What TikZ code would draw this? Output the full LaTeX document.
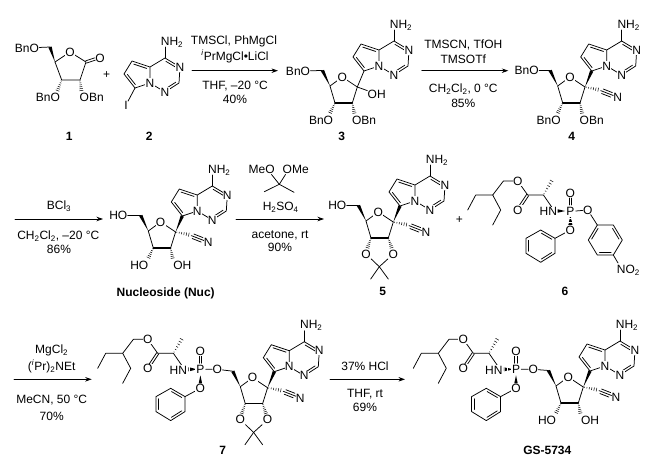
\documentclass[tikz,border=0pt]{standalone}
\usepackage{fontspec}
\setmainfont{Liberation Sans}
\usetikzlibrary{calc,arrows.meta}
\newcommand\bhash[2]{\foreach \hh in {0.08,0.24,...,0.95}{\pgfmathsetmacro\hw{0.3+1.7*\hh}\draw[line width=.5pt] ($($(#1)!\hh!(#2)$)!\hw pt!90:(#2)$) -- ($($(#1)!\hh!(#2)$)!\hw pt!-90:(#2)$);}}
\newcommand\bwedge[2]{\fill[black] (#1) -- ($(#2)!1.7pt!90:(#1)$) -- ($(#2)!1.7pt!-90:(#1)$) -- cycle;}
% inner line of a double bond, #3 = 90 (left) or -90 (right of a->b)
\newcommand\bdbl[3]{\draw ($($(#1)!.14!(#2)$)!2.4pt!#3:(#2)$) -- ($($(#2)!.14!(#1)$)!2.4pt!-#3:(#1)$);}
\newcommand\btwo[2]{\draw ($(#1)!1.2pt!90:(#2)$) -- ($(#2)!1.2pt!-90:(#1)$); \draw ($(#1)!1.2pt!-90:(#2)$) -- ($(#2)!1.2pt!90:(#1)$);}
\newcommand\nhtwo{NH\textsubscript{2}}
\tikzset{
  x=1pt,y=-1pt,
  bond/.style={line width=.75pt,line cap=round,line join=round},
  every path/.style={bond},
  lbl/.style={inner sep=0pt,text height=8.4pt,text depth=0pt,font=\fontsize{12}{12}\selectfont},
  atom/.style={lbl,fill=white,inner sep=.4pt},
  num/.style={lbl,font=\fontsize{12}{12}\selectfont\bfseries},
  arr/.style={line width=.8pt,-{Stealth[length=6.5pt,width=4.5pt]}},
  % fused pyrrolo-triazine, origin at the bridge N
  pics/het/.style={code={
    \coordinate (Nb) at (0,0); \coordinate (C4a) at (0,-16); \coordinate (C4) at (15,-25);
    \coordinate (N3) at (30,-16); \coordinate (C2) at (29,0); \coordinate (N1) at (15,9);
    \coordinate (C5) at (-18,-22); \coordinate (C6) at (-26,-9); \coordinate (C7) at (-15,5);
    \coordinate (Nx) at (15,-36);
    \draw (Nb) -- (C4a) -- (C4) -- (N3) -- (C2) -- (N1) -- (Nb) -- (C7) -- (C6) -- (C5) -- (C4a);
    \draw (C4) -- (Nx);
    \bdbl{C4a}{C5}{90}\bdbl{C6}{C7}{90}\bdbl{C4}{N3}{-90}\bdbl{C2}{N1}{-90}
    \node[atom] (nNb) at (Nb) {N}; \node[atom] (nN3) at (N3) {N}; \node[atom] (nN1) at (N1) {N};
    \node[lbl] (nNH) at (22,-42) {\nhtwo};
  }},
  % furanose ring in the same frame
  pics/fur/.style={code={
    \coordinate (R1) at (-21.7,21); \coordinate (RO) at (-36.7,11); \coordinate (R2) at (-26.7,37);
    \coordinate (R3) at (-44,37); \coordinate (R4) at (-49,20); \coordinate (CH) at (-56.5,4.5);
    \draw (R4) -- (RO) -- (R1) -- (R2);
    \draw (R4) -- (R3);
    \draw[line width=1.1pt] (R3) -- (R2);
    \bwedge{R4}{CH}
    \node[atom] (nRO) at (RO) {O};
  }},
  pics/subs/.style 2 args={code={
    \coordinate (a3) at (-44,37); \coordinate (a2) at (-26.7,37);
    \coordinate (h3) at (-49.5,48); \coordinate (h2) at (-24.4,48.5);
    \bhash{a3}{h3}\bhash{a2}{h2}
    \node[lbl] (s3) at (-58,54) {#1};
    \node[lbl] (s2) at (-15,54) {#2};
  }},
  pics/cn/.style={code={
    \coordinate (p1) at (-21.7,21); \coordinate (p2) at (-6.7,24); \coordinate (p3) at (-6,24.6); \coordinate (p4) at (6.5,29.5);
    \bhash{p1}{p2}
    \draw (p3) -- (p4); \bdbl{p3}{p4}{90}\bdbl{p3}{p4}{-90}
    \node[lbl] (nN) at (11,31.3) {N};
  }},
  pics/acet/.style={code={
    \coordinate (a3) at (-44,37); \coordinate (a2) at (-26.7,37);
    \coordinate (q) at (-35.7,65.7); \coordinate (m1) at (-44.3,78); \coordinate (m2) at (-26.7,78);
    \coordinate (e3) at (-48,48); \coordinate (e2) at (-23,48);
    \bhash{a3}{e3}\bhash{a2}{e2}
    \node[atom] (o3) at (-49,53) {O}; \node[atom] (o2) at (-21.7,53) {O};
    \draw (o3) -- (q) -- (o2); \draw (q) -- (m1); \draw (q) -- (m2);
  }},
  % ethylbutyl alanine ester with P and OPh, origin at the branching CH
  pics/chain/.style={code={
    \coordinate (t1) at (-25,15); \coordinate (t2) at (-17,0); \coordinate (CH) at (0,0);
    \coordinate (t4) at (10.7,-14); \coordinate (Oe) at (25,-14); \coordinate (CO) at (35,0);
    \coordinate (Od) at (25,15); \coordinate (Ca) at (50.7,0); \coordinate (Me) at (60,-16);
    \coordinate (u1) at (8,15); \coordinate (u2) at (0,30); \coordinate (NN) at (59,12);
    \coordinate (Nr) at (65,16); \coordinate (Pl) at (72.5,16); \coordinate (Pd) at (77.7,22);
    \coordinate (Pr) at (83,16); \coordinate (Pu) at (77.7,10); \coordinate (Otb) at (77.7,3);
    \coordinate (Oub) at (77.7,30); \coordinate (OO) at (77.7,35);
    \coordinate (ph1) at (62.3,43.3); \coordinate (ph2) at (48,35); \coordinate (ph3) at (33.3,43.3);
    \coordinate (ph4) at (33.3,58.3); \coordinate (ph5) at (48,67.3); \coordinate (ph6) at (62.3,58.3);
    \draw (t1) -- (t2) -- (CH) -- (t4) -- (Oe) -- (CO) -- (Ca) -- (NN);
    \draw (CH) -- (u1) -- (u2);
    \draw (OO) -- (ph1);
    \draw (ph1) -- (ph2) -- (ph3) -- (ph4) -- (ph5) -- (ph6) -- cycle;
    \btwo{CO}{Od}\btwo{Pu}{Otb}
    \bhash{Ca}{Me}
    \bdbl{ph1}{ph2}{90}\bdbl{ph3}{ph4}{90}\bdbl{ph5}{ph6}{90}
    \node[atom] (nOe) at (Oe) {O}; \node[atom] (nOd) at (Od) {O};
    \node[atom] (nHN) at (55.6,16.7) {HN};
    \node[atom] (nP) at (77.7,16) {P};
    \node[lbl] (nOt) at (77.7,-1.7) {O};
    \node[atom] (nOO) at (OO) {O};
  }},
}
\begin{document}
\begin{tikzpicture}
\useasboundingbox (0,0) rectangle (660,466);
\fill[white] (0,0) rectangle (660,466);

% --- compound 1
\coordinate (l1) at (86,62); \coordinate (l2) at (80,80); \coordinate (l3) at (61.7,80);
\coordinate (l4) at (55,62); \coordinate (l5) at (50,47); \coordinate (lo) at (70,52);
\coordinate (lc) at (95,59); \coordinate (lh3) at (57,92); \coordinate (lh2) at (81.5,92);
\draw (l1) -- (l2) -- (l3) -- (l4); \draw (l4) -- (lo) -- (l1);
\btwo{l1}{lc}
\bwedge{l4}{l5}
\bhash{l3}{lh3}\bhash{l2}{lh2}
\node[lbl] (bn1a) at (27,48) {BnO};
\draw (bn1a) -- (l5);
\node[atom] (o1r) at (lo) {O};
\node[lbl] (o1d) at (100,58) {O};
\node[lbl] (bn1b) at (48,97) {BnO};
\node[lbl] (bn1c) at (91.7,97) {OBn};
\node[lbl] (plus1) at (106.7,74) {+};
\node[num] (n1) at (69.3,136.7) {1};

% --- compound 2
\pic (c2) at (150,83) {het};
\node[lbl] (iod) at (126,105) {I};
\draw (c2C7) -- (iod);
\node[num] (n2) at (149.3,136.7) {2};

% --- arrow 1
\coordinate (a1s) at (192,70.7); \coordinate (a1e) at (278,70.7);
\draw[arr] (a1s) -- (a1e);
\node[lbl] (r1a) at (234,40.7) {TMSCl, PhMgCl};
\node[lbl] (r1b) at (235,56) {\textsuperscript{\textit{i}}PrMgCl•LiCl};
\node[lbl] (r1c) at (235,85) {THF, –20 °C};
\node[lbl] (r1d) at (235,99) {40\%};

% --- compound 3
\pic (c3) at (379,66) {het};
\pic (c3f) at (379,66) {fur};
\pic (c3s) at (379,66) {subs={BnO}{OBn}};
\draw (c3fR1) -- (c3C7);
\node[lbl] (oh3) at (376.7,94) {OH};
\draw (c3fR1) -- (oh3);
\node[lbl] (bn3) at (298,71) {BnO};
\draw (bn3) -- (c3fCH);
\node[num] (n3) at (341.7,136.7) {3};

% --- arrow 2
\coordinate (a2s) at (421.7,70.7); \coordinate (a2e) at (508.3,70.7);
\draw[arr] (a2s) -- (a2e);
\node[lbl] (r2a) at (463.3,44.3) {TMSCN, TfOH};
\node[lbl] (r2b) at (463.3,59.3) {TMSOTf};
\node[lbl] (r2c) at (463.3,88.3) {CH\textsubscript{2}Cl\textsubscript{2}, 0 °C};
\node[lbl] (r2d) at (463.3,103.3) {85\%};

% --- compound 4
\pic (c4) at (606.7,66) {het};
\pic (c4f) at (606.7,66) {fur};
\pic (c4s) at (606.7,66) {subs={BnO}{OBn}};
\pic (c4c) at (606.7,66) {cn};
\bwedge{c4fR1}{c4C7}
\node[lbl] (bn4) at (526.7,70.7) {BnO};
\draw (bn4) -- (c4fCH);
\node[num] (n4) at (571.7,136.7) {4};

% --- arrow 3
\coordinate (a3s) at (15,219); \coordinate (a3e) at (103,219);
\draw[arr] (a3s) -- (a3e);
\node[lbl] (r3a) at (59,205.7) {BCl\textsubscript{3}};
\node[lbl] (r3b) at (58.3,235) {CH\textsubscript{2}Cl\textsubscript{2}, –20 °C};
\node[lbl] (r3c) at (59,249.3) {86\%};

% --- nucleoside
\pic (cN) at (197.3,211) {het};
\pic (cNf) at (197.3,211) {fur};
\pic (cNs) at (197.3,211) {subs={HO}{OH}};
\pic (cNc) at (197.3,211) {cn};
\bwedge{cNfR1}{cNC7}
\node[lbl] (hoN) at (118.3,215.7) {HO};
\draw (hoN) -- (cNfCH);
\node[num] (nN) at (165.7,292.3) {Nucleoside (Nuc)};

% --- arrow 4
\coordinate (a4s) at (236,219); \coordinate (a4e) at (324,219);
\draw[arr] (a4s) -- (a4e);
\node[lbl] (dm1) at (261.7,169.3) {MeO};
\node[lbl] (dm2) at (295.7,169.3) {OMe};
\coordinate (dc) at (279.3,184.3); \coordinate (dm3) at (264.3,191.7); \coordinate (dm4) at (294,192.3);
\coordinate (do1) at (271.5,174.5); \coordinate (do2) at (285.5,174.5);
\draw (do1) -- (dc) -- (do2); \draw (dm3) -- (dc) -- (dm4);
\node[lbl] (r4a) at (280.7,206.7) {H\textsubscript{2}SO\textsubscript{4}};
\node[lbl] (r4b) at (280,234.3) {acetone, rt};
\node[lbl] (r4c) at (280,247.7) {90\%};

% --- compound 5
\pic (c5) at (415,201) {het};
\pic (c5f) at (415,201) {fur};
\pic (c5a) at (415,201) {acet};
\pic (c5c) at (415,201) {cn};
\bwedge{c5fR1}{c5C7}
\node[lbl] (ho5) at (337.3,205.7) {HO};
\draw (ho5) -- (c5fCH);
\node[num] (n5) at (382.7,291.7) {5};
\node[lbl] (plus2) at (459.3,219) {+};

% --- compound 6
\pic (c6) at (492.7,195) {chain};
\bwedge{c6Pl}{c6Nr}
\bhash{c6Pd}{c6Oub}
\coordinate (ar1) at (597.3,225); \coordinate (ar2) at (613.3,225); \coordinate (ar3) at (622.3,240);
\coordinate (ar4) at (613.3,255); \coordinate (ar5) at (597.3,255); \coordinate (ar6) at (588.3,240);
\coordinate (arn) at (618,263);
\node[lbl] (o6) at (587.7,210) {O};
\draw (c6Pr) -- (o6) -- (ar1);
\draw (ar1) -- (ar2) -- (ar3) -- (ar4) -- (ar5) -- (ar6) -- cycle;
\bdbl{ar2}{ar3}{-90}\bdbl{ar4}{ar5}{-90}\bdbl{ar6}{ar1}{-90}
\draw (ar4) -- (arn);
\node[lbl] (no2) at (628.3,269.3) {NO\textsubscript{2}};
\node[num] (n6) at (565,291.7) {6};

% --- arrow 5
\coordinate (a5s) at (14,379.3); \coordinate (a5e) at (91.7,379.3);
\draw[arr] (a5s) -- (a5e);
\node[lbl] (r5a) at (51.7,349.3) {MgCl\textsubscript{2}};
\node[lbl] (r5b) at (51.7,366) {(\textsuperscript{\textit{i}}Pr)\textsubscript{2}NEt};
\node[lbl] (r5c) at (51.7,399.3) {MeCN, 50 °C};
\node[lbl] (r5d) at (51.7,416.7) {70\%};

% --- compound 7
\pic (c7ch) at (122.7,353.3) {chain};
\pic (c7) at (289.3,366.7) {het};
\pic (c7f) at (289.3,366.7) {fur};
\pic (c7a) at (289.3,366.7) {acet};
\pic (c7c) at (289.3,366.7) {cn};
\bwedge{c7fR1}{c7C7}
\bhash{c7chPl}{c7chNr}
\bwedge{c7chPd}{c7chOub}
\node[lbl] (o7) at (217.3,369.3) {O};
\draw (c7chPr) -- (o7) -- (c7fCH);
\node[num] (n7) at (222.7,450) {7};

% --- arrow 6
\coordinate (a6s) at (330,379.3); \coordinate (a6e) at (405,379.3);
\draw[arr] (a6s) -- (a6e);
\node[lbl] (r6a) at (365,366) {37\% HCl};
\node[lbl] (r6b) at (365,393.3) {THF, rt};
\node[lbl] (r6c) at (365,407.7) {69\%};

% --- GS-5734
\pic (cGch) at (438.3,353.3) {chain};
\pic (cG) at (605,366) {het};
\pic (cGf) at (605,366) {fur};
\pic (cGs) at (605,366) {subs={HO}{OH}};
\pic (cGc) at (605,366) {cn};
\bwedge{cGfR1}{cGC7}
\bhash{cGchPl}{cGchNr}
\bwedge{cGchPd}{cGchOub}
\node[lbl] (oG) at (533.3,369.3) {O};
\draw (cGchPr) -- (oG) -- (cGfCH);
\node[num] (nG) at (547.3,450) {GS-5734};
\end{tikzpicture}
\end{document}
